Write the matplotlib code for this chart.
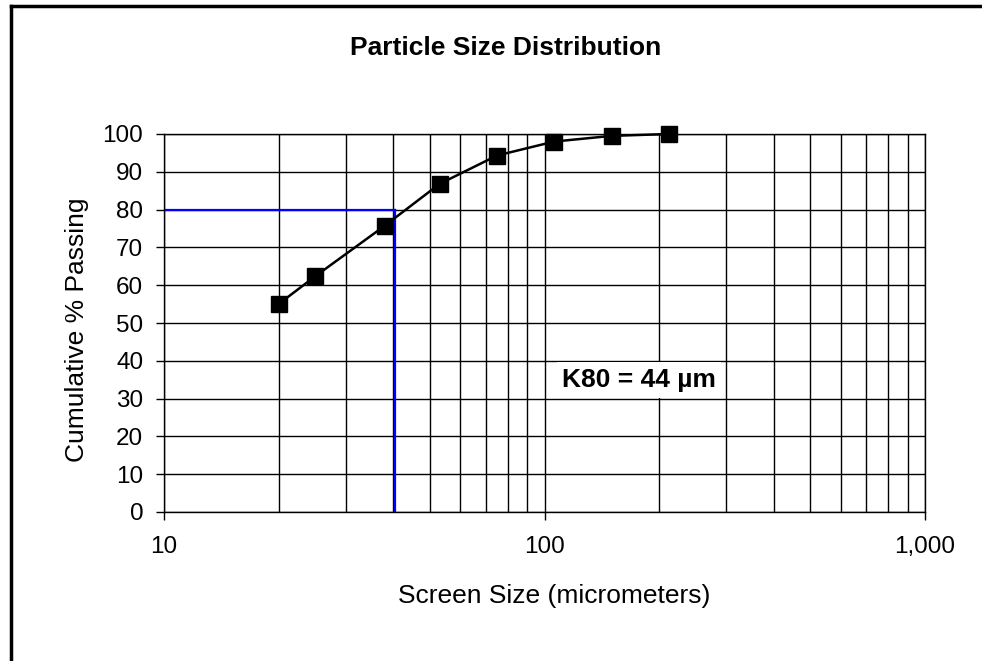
import matplotlib
matplotlib.use("Agg")
import matplotlib.pyplot as plt
from matplotlib.lines import Line2D
from matplotlib.ticker import FixedLocator, FixedFormatter, NullFormatter

# Sieve data
screen_size_um = [20, 25, 38, 53, 75, 106, 150, 212]
cum_passing = [55.0, 62.4, 75.7, 86.8, 94.3, 98.0, 99.5, 100.0]

# K80 guide lines (drawn where the picture puts them) and the label
k80_marker_x = 40.5
k80_level = 80
k80_label = "K80 = 44 µm"

x_ticks = [10, 100, 1000]
x_tick_labels = ["10", "100", "1,000"]
y_ticks = list(range(0, 101, 10))

plt.rcParams["font.family"] = ["Liberation Sans", "DejaVu Sans"]

W, H = 982, 661
fig = plt.figure(figsize=(W / 100, H / 100), dpi=100)
fig.patch.set_facecolor("white")

# plot area in pixels: left 164, right 925, top 134, bottom 512
ax = fig.add_axes([164 / W, 1 - 512 / H, (925 - 164) / W, (512 - 134) / H])
ax.set_xscale("log")
ax.set_xlim(10, 1000)
ax.set_ylim(0, 100)

ax.grid(True, which="both", color="black", linewidth=1.0)
ax.set_axisbelow(True)

# K80 guide lines
ax.plot([10, k80_marker_x], [k80_level, k80_level], color="blue", linewidth=1.6, zorder=2)
ax.plot([k80_marker_x, k80_marker_x], [0, k80_level], color="blue", linewidth=1.6, zorder=2)

ax.plot(screen_size_um, cum_passing, color="black", linewidth=1.8,
        marker="s", markersize=11, markerfacecolor="black", zorder=3,
        clip_on=False)

ax.xaxis.set_major_locator(FixedLocator(x_ticks))
ax.xaxis.set_major_formatter(FixedFormatter(x_tick_labels))
ax.xaxis.set_minor_formatter(NullFormatter())
ax.set_yticks(y_ticks)

ax.tick_params(axis="both", which="major", direction="out", length=6, width=1.0,
               labelsize=17.5, colors="black")
ax.tick_params(axis="x", which="major", pad=11)
ax.tick_params(axis="y", which="major", pad=9)
ax.tick_params(axis="both", which="minor", length=0)

for side in ["left", "bottom", "top", "right"]:
    ax.spines[side].set_color("black")
    ax.spines[side].set_linewidth(1.0)

ax.text((639 - 164) / (925 - 164), (512 - 380) / (512 - 134), k80_label,
        transform=ax.transAxes, ha="center", va="center",
        fontsize=19, fontweight="bold", zorder=5,
        bbox=dict(facecolor="white", edgecolor="none", pad=4))

fig.text(506 / W, 1 - 48 / H, "Particle Size Distribution",
         ha="center", va="center", fontsize=19, fontweight="bold")
fig.text(554 / W, 1 - 596 / H, "Screen Size (micrometers)",
         ha="center", va="center", fontsize=19)
fig.text(77 / W, 1 - 330 / H, "Cumulative % Passing",
         ha="center", va="center", fontsize=19, rotation=90)

# outer frame (top and left edges only, as in the picture)
fig.add_artist(Line2D([10.5 / W, 10.5 / W], [0, 1 - 6 / H],
                      transform=fig.transFigure, color="black", linewidth=2.5))
fig.add_artist(Line2D([10.5 / W, 1], [1 - 6 / H, 1 - 6 / H],
                      transform=fig.transFigure, color="black", linewidth=2.5))

fig.savefig("out.png", dpi=100)
